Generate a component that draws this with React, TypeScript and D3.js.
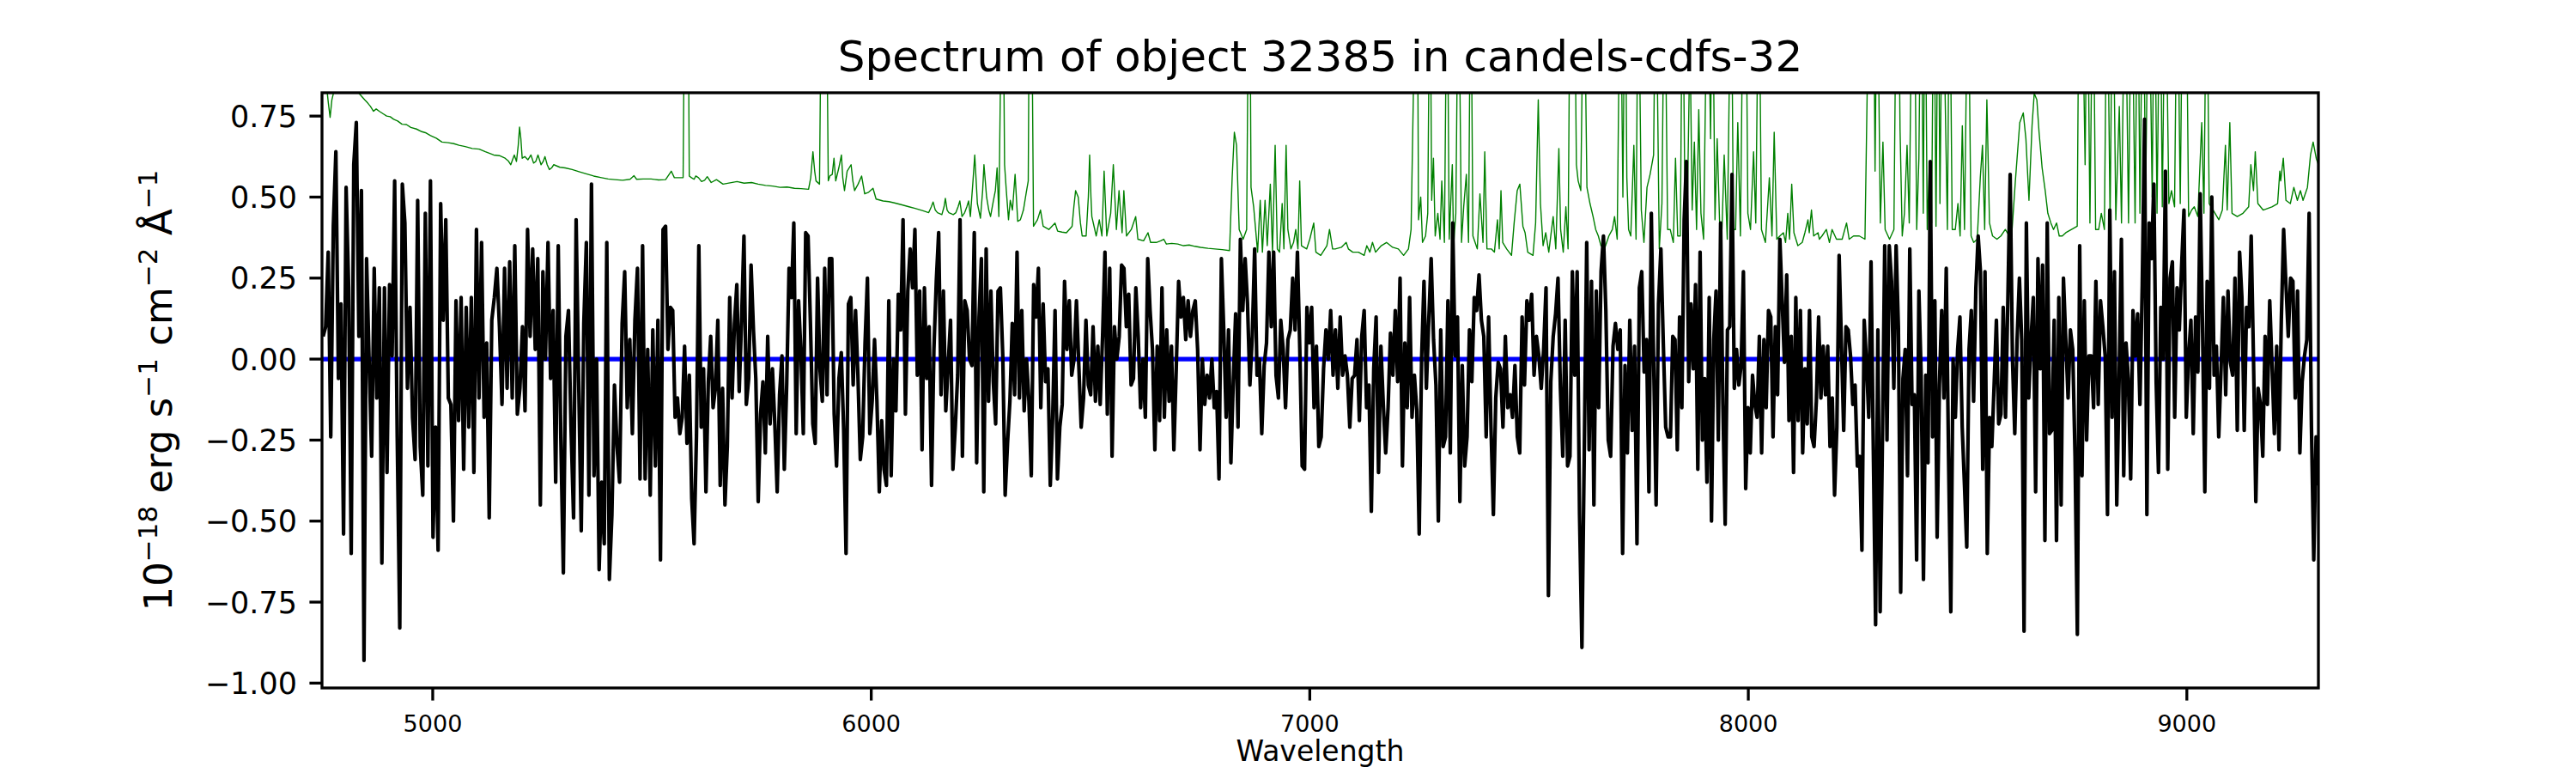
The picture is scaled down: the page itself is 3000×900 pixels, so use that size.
import React from "react";
import * as d3 from "d3";

const TITLE = "Spectrum of object 32385 in candels-cdfs-32";
const X_LABEL = "Wavelength";
const X_TICKS = [5000, 6000, 7000, 8000, 9000];
const Y_TICKS = [0.75, 0.5, 0.25, 0, -0.25, -0.5, -0.75, -1.0];
const X_DOMAIN: [number, number] = [4747.5, 9300];
const Y_DOMAIN: [number, number] = [-1.015, 0.822];

// wavelength edges of the six traced stretches of the observed spectrum
const SEGMENT_EDGES = [4750, 5531, 6294.5, 7058.5, 7822.5, 8586.5, 9300];

const FLUX_SEG1 = [0.07,0.10,0.33,-0.24,0.41,0.64,-0.06,0.17,-0.54,0.53,0.22,-0.60,0.60,0.73,0.07,0.52,-0.93,0.31,0.00,-0.30,0.28,-0.12,0.22,-0.63,0.22,-0.35,0.23,0.01,0.55,-0.24,-0.83,0.54,0.42,-0.09,0.16,-0.18,-0.31,0.49,-0.27,-0.42,0.45,-0.33,0.55,-0.55,-0.21,-0.59,0.48,0.12,0.43,-0.12,-0.14,-0.50,0.18,-0.19,0.19,-0.34,0.16,-0.21,0.19,-0.35,0.40,-0.12,0.36,-0.18,0.05,-0.49,0.12,0.19,0.28,0.10,-0.14,0.28,-0.09,0.30,-0.12,0.35,-0.17,-0.09,0.10,-0.16,0.40,0.07,0.34,0.03,0.31,-0.45,0.27,0.00,0.36,-0.06,0.15,-0.38,0.35,-0.24,-0.66,0.07,0.15,-0.21,-0.49,0.43,-0.07,-0.53,0.11,0.36,-0.42,0.54,-0.36,0.00,-0.65,-0.38,-0.57,0.36,-0.68,-0.48,-0.08,-0.27,-0.38,0.11,0.27,-0.15,0.06,-0.23,0.12,0.28,-0.37,0.35,-0.37,0.03,-0.42,0.09,-0.33,0.12,-0.62,0.40];

const FLUX_SEG2 = [0.41,0.03,0.16,0.15,-0.18,-0.12,-0.23,-0.18,0.04,-0.26,-0.05,-0.43,-0.57,-0.24,0.35,-0.21,-0.03,-0.41,-0.07,0.07,-0.15,-0.09,0.12,-0.39,-0.09,-0.45,-0.27,0.19,-0.12,0.11,0.23,-0.10,0.12,0.38,-0.14,-0.06,0.29,0.09,-0.06,-0.44,-0.17,-0.07,-0.29,0.07,-0.20,-0.03,-0.20,-0.41,-0.11,0.01,-0.34,-0.08,0.28,0.19,0.42,-0.23,0.18,0.02,-0.23,0.39,0.38,0.11,-0.20,-0.26,0.25,-0.03,-0.13,0.28,-0.11,0.31,0.31,-0.17,-0.33,-0.06,0.02,-0.22,-0.60,0.17,0.19,-0.08,0.15,-0.05,-0.31,-0.24,0.05,0.25,-0.23,-0.13,0.06,-0.13,-0.41,-0.19,-0.34,-0.39,0.18,-0.36,0.00,-0.16,0.20,0.09,0.43,-0.17,0.21,0.34,0.22,0.40,-0.05,0.21,-0.28,0.22,-0.06,0.10,-0.39,0.03,0.24,0.39,-0.11,0.21,-0.16,-0.02,0.12,-0.34,-0.21,-0.05,0.43,-0.30,0.18,0.15,0.00,-0.02,0.39,-0.32,0.13,0.31,-0.41,0.34,-0.13,0.21,-0.07,-0.20,0.21];

const FLUX_SEG3 = [0.22,0.01,-0.42,-0.26,-0.13,0.11,-0.11,0.33,-0.12,0.15,-0.16,0.00,-0.13,-0.36,0.23,0.13,0.28,-0.15,0.17,-0.07,-0.03,-0.39,-0.18,0.15,-0.37,-0.21,-0.14,0.24,0.03,0.18,-0.05,0.00,0.18,-0.02,-0.21,-0.12,0.12,-0.08,-0.11,0.10,-0.13,0.04,-0.14,0.07,0.33,-0.17,0.28,-0.30,0.10,0.00,0.07,0.29,0.28,0.10,0.20,-0.08,-0.06,0.22,0.07,-0.15,0.00,-0.18,0.31,0.15,0.03,-0.28,0.04,-0.19,0.22,-0.18,0.09,-0.13,0.04,-0.28,-0.03,0.24,0.13,0.19,0.06,0.18,0.07,0.15,0.18,0.03,-0.28,0.00,-0.14,-0.05,-0.12,0.00,-0.15,-0.10,-0.37,0.31,0.09,-0.18,0.09,-0.32,-0.07,0.14,-0.21,0.37,0.15,0.31,0.17,-0.08,0.07,0.34,-0.05,0.00,-0.23,-0.02,0.05,0.33,0.10,0.33,-0.05,-0.12,0.12,0.03,-0.15,0.06,0.09,0.25,0.09,0.33,0.03,-0.33,-0.34,0.16,0.05,0.16,-0.15,0.04,-0.27,-0.24,-0.03,0.09,0.00,0.15,-0.05];

const FLUX_SEG4 = [0.09,-0.09,0.13,-0.05,0.01,-0.05,-0.21,-0.06,-0.05,0.06,-0.19,0.07,0.15,-0.15,-0.08,-0.47,-0.03,0.13,-0.35,0.04,-0.14,-0.29,-0.15,0.08,-0.05,0.15,-0.07,0.25,-0.33,0.05,-0.15,0.19,-0.18,-0.05,-0.16,-0.54,0.00,0.24,-0.09,0.12,0.31,0.06,-0.08,-0.50,0.09,-0.27,-0.24,0.18,-0.29,0.42,0.01,0.13,-0.44,-0.02,-0.33,-0.24,0.09,-0.07,0.19,0.15,0.26,0.12,0.07,-0.24,0.13,-0.21,-0.48,-0.12,-0.01,-0.03,-0.21,0.07,-0.15,-0.11,-0.18,-0.02,-0.24,-0.29,0.13,-0.08,0.18,0.12,0.20,-0.05,0.07,0.01,-0.09,0.03,0.22,-0.73,-0.07,0.07,0.14,0.25,-0.09,-0.30,0.12,-0.33,-0.30,0.27,-0.05,0.27,-0.48,-0.89,-0.27,0.36,-0.28,0.24,-0.45,0.21,-0.15,0.27,0.38,0.15,-0.25,-0.30,0.04,0.11,0.03,0.09,-0.60,-0.02,-0.29,0.12,-0.22,0.04,-0.57,0.22,0.27,-0.04,0.06,-0.41,0.45,-0.02,-0.45,0.17,0.34,0.05,-0.21,-0.24];

const FLUX_SEG5 = [-0.24,0.07,0.06,-0.28,0.13,-0.15,0.43,0.61,-0.07,0.17,-0.03,0.23,-0.34,0.33,-0.25,-0.06,-0.38,0.19,-0.50,0.06,0.21,-0.25,0.42,-0.14,-0.51,0.09,0.10,0.57,-0.09,0.03,-0.08,-0.02,0.27,-0.40,-0.15,-0.29,-0.05,-0.14,-0.18,0.07,-0.29,0.06,-0.15,0.15,0.13,-0.24,0.10,-0.11,0.37,0.18,-0.01,0.26,-0.19,0.07,-0.35,0.19,-0.19,0.15,-0.29,-0.03,-0.20,0.15,-0.24,-0.27,-0.13,0.13,-0.12,0.04,-0.11,0.04,-0.27,-0.12,-0.42,-0.21,0.32,0.05,-0.22,0.10,0.09,0.01,-0.14,-0.08,-0.33,-0.30,-0.59,0.12,-0.01,-0.18,0.30,-0.28,-0.82,0.09,-0.78,-0.25,0.35,-0.25,0.35,0.24,-0.09,0.35,0.10,-0.72,-0.06,0.03,-0.36,0.34,-0.14,-0.11,-0.62,0.21,-0.05,-0.68,-0.05,-0.32,0.61,-0.24,0.18,-0.55,-0.08,0.15,-0.12,0.28,-0.30,-0.78,0.00,-0.18,0.03,0.13,-0.21,-0.39,-0.58,0.03,0.15,-0.13,0.22,0.38,0.27,-0.34,0.27,-0.60,-0.18,-0.27,-0.08,0.12,-0.20,-0.17,0.16];

const FLUX_SEG6 = [-0.18,0.18,0.57,0.00,-0.23,0.06,0.25,0.06,-0.84,0.42,-0.12,0.06,0.19,-0.41,0.31,-0.03,0.29,-0.56,0.42,-0.23,-0.22,0.12,-0.56,0.19,-0.45,0.25,0.06,-0.12,0.09,0.03,-0.30,-0.85,0.35,-0.36,0.18,-0.25,0.01,0.01,-0.15,0.24,-0.14,0.18,0.10,0.01,-0.48,0.46,-0.18,0.27,-0.45,-0.07,0.37,-0.36,0.05,-0.06,-0.37,0.15,0.01,0.14,-0.14,0.23,0.74,-0.48,0.42,0.31,0.54,-0.07,-0.35,0.16,0.00,0.58,-0.34,0.25,0.30,-0.18,0.22,0.09,0.29,0.46,-0.18,0.01,0.12,-0.23,0.13,-0.04,0.51,0.10,-0.41,0.24,-0.09,0.50,-0.05,0.04,-0.24,-0.03,0.19,-0.11,0.21,-0.01,-0.05,0.25,-0.22,0.33,0.19,-0.22,0.16,0.10,0.38,0.00,-0.44,-0.09,-0.14,-0.30,0.07,-0.14,0.18,-0.02,-0.23,0.04,-0.28,0.12,0.40,0.23,0.07,0.25,0.24,-0.12,0.21,-0.29,-0.07,0.01,0.06,0.45,-0.21,-0.62,-0.24,-0.39];

const FLUX_SEGMENTS = [FLUX_SEG1, FLUX_SEG2, FLUX_SEG3, FLUX_SEG4, FLUX_SEG5, FLUX_SEG6];

// noise / error spectrum: [wavelength, value]
const NOISE: [number, number][] = [
  [4748,0.95],[4755,0.88],[4762,0.79],[4766,0.746],[4770,0.80],[4777,0.84],[4787,0.835],[4800,0.84],[4813,0.83],[4822,0.835],[4832,0.82],[4845,0.80],[4852,0.79],[4858,0.78],[4865,0.765],[4871,0.772],[4878,0.765],[4887,0.757],[4895,0.75],[4903,0.748],[4911,0.74],[4920,0.735],[4930,0.725],[4940,0.724],[4950,0.715],[4963,0.71],[4975,0.702],[4985,0.698],[4995,0.69],[5008,0.682],[5021,0.67],[5035,0.668],[5048,0.665],[5060,0.66],[5074,0.656],[5090,0.65],[5106,0.648],[5120,0.64],[5139,0.63],[5152,0.628],[5165,0.62],[5172,0.612],[5178,0.60],[5182,0.615],[5186,0.63],[5191,0.61],[5195,0.66],[5198,0.716],[5201,0.68],[5204,0.62],[5210,0.625],[5217,0.615],[5224,0.63],[5230,0.605],[5235,0.61],[5240,0.63],[5247,0.60],[5252,0.61],[5256,0.625],[5261,0.60],[5266,0.585],[5271,0.59],[5276,0.60],[5290,0.592],[5302,0.59],[5318,0.585],[5335,0.578],[5350,0.572],[5367,0.565],[5385,0.56],[5400,0.556],[5415,0.554],[5433,0.552],[5450,0.555],[5459,0.566],[5465,0.555],[5480,0.556],[5498,0.556],[5515,0.553],[5531,0.554],
  [5544,0.58],[5551,0.56],[5564,0.56],[5571,0.56],[5575,1.3],[5582,1.3],[5585,0.565],[5590,0.56],[5596,0.555],[5600,0.565],[5606,0.56],[5613,0.548],[5620,0.552],[5626,0.563],[5635,0.545],[5647,0.554],[5662,0.54],[5678,0.544],[5694,0.548],[5710,0.543],[5727,0.545],[5742,0.54],[5759,0.536],[5775,0.534],[5792,0.53],[5808,0.531],[5825,0.527],[5840,0.526],[5857,0.524],[5862,0.56],[5867,0.64],[5871,0.58],[5874,0.55],[5882,0.54],[5887,1.3],[5897,1.3],[5902,0.55],[5906,0.566],[5911,0.57],[5915,0.62],[5919,0.55],[5926,0.59],[5932,0.63],[5935,0.56],[5939,0.52],[5945,0.58],[5954,0.60],[5958,0.55],[5962,0.52],[5970,0.54],[5978,0.565],[5985,0.51],[5994,0.515],[6004,0.527],[6011,0.494],[6027,0.488],[6040,0.486],[6053,0.482],[6070,0.476],[6086,0.47],[6100,0.465],[6118,0.458],[6131,0.452],[6137,0.47],[6141,0.485],[6146,0.46],[6151,0.452],[6161,0.446],[6166,0.47],[6169,0.496],[6173,0.46],[6177,0.452],[6187,0.446],[6193,0.452],[6198,0.47],[6202,0.488],[6207,0.44],[6213,0.452],[6218,0.47],[6222,0.488],[6226,0.44],[6232,0.55],[6236,0.63],[6240,0.53],[6242,0.48],[6249,0.435],[6254,0.52],[6257,0.60],[6260,0.55],[6263,0.50],[6268,0.46],[6272,0.44],[6278,0.485],[6283,0.52],[6287,0.59],[6291,0.44],[6295,0.9],
  [6300,1.3],[6304,0.6],[6308,0.52],[6313,0.43],[6317,0.49],[6322,0.46],[6328,0.57],[6334,0.425],[6340,0.43],[6347,0.46],[6353,0.51],[6358,0.55],[6361,1.3],[6365,1.3],[6370,0.41],[6379,0.43],[6386,0.46],[6392,0.41],[6405,0.40],[6412,0.41],[6419,0.42],[6425,0.395],[6435,0.392],[6445,0.39],[6458,0.41],[6462,0.47],[6466,0.52],[6472,0.50],[6477,0.42],[6481,0.38],[6490,0.38],[6495,0.50],[6498,0.63],[6501,0.50],[6503,0.44],[6513,0.38],[6520,0.43],[6526,0.38],[6531,0.58],[6537,0.38],[6546,0.45],[6552,0.60],[6559,0.40],[6565,0.52],[6572,0.39],[6576,0.52],[6582,0.38],[6593,0.40],[6603,0.44],[6608,0.37],[6621,0.365],[6631,0.39],[6637,0.36],[6650,0.36],[6660,0.365],[6667,0.37],[6673,0.355],[6685,0.357],[6699,0.355],[6712,0.35],[6725,0.352],[6738,0.348],[6751,0.345],[6768,0.342],[6784,0.34],[6800,0.338],[6817,0.335],[6823,0.56],[6828,0.70],[6833,0.66],[6839,0.40],[6848,0.37],[6856,0.40],[6861,1.3],[6863,1.3],[6866,0.53],[6872,0.47],[6881,0.33],[6887,0.49],[6892,0.33],[6898,0.49],[6903,0.35],[6910,0.54],[6915,0.33],[6921,0.66],[6926,0.34],[6931,0.33],[6937,0.48],[6941,0.34],[6946,0.66],[6950,0.40],[6957,0.34],[6963,0.36],[6968,0.40],[6973,0.34],[6977,0.55],[6981,0.35],[6993,0.34],[7000,0.37],[7009,0.42],[7014,0.33],[7025,0.32],[7039,0.35],[7045,0.40],[7052,0.34],
  [7058,0.34],[7072,0.345],[7083,0.36],[7088,0.34],[7098,0.33],[7111,0.33],[7124,0.32],[7130,0.35],[7137,0.33],[7143,0.36],[7150,0.33],[7163,0.35],[7175,0.36],[7189,0.345],[7202,0.34],[7214,0.32],[7225,0.34],[7231,0.40],[7236,0.8],[7240,1.3],[7245,1.3],[7248,0.43],[7253,0.50],[7257,0.36],[7264,0.38],[7269,0.45],[7274,1.3],[7278,0.49],[7282,0.62],[7286,0.38],[7292,0.45],[7297,0.37],[7301,0.55],[7307,0.36],[7313,1.3],[7318,0.37],[7325,0.60],[7328,0.35],[7333,0.45],[7339,1.3],[7346,0.36],[7351,0.47],[7357,0.57],[7362,0.36],[7367,1.3],[7372,0.38],[7382,0.34],[7388,0.51],[7395,0.36],[7399,0.64],[7404,0.34],[7414,0.34],[7421,0.33],[7428,0.43],[7432,0.34],[7436,0.52],[7440,0.36],[7449,0.34],[7460,0.32],[7466,0.42],[7473,0.52],[7479,0.54],[7486,0.41],[7491,0.39],[7497,0.33],[7509,0.32],[7515,0.42],[7521,0.80],[7526,0.48],[7532,0.35],[7538,0.39],[7545,0.33],[7555,0.44],[7561,0.34],[7568,0.65],[7572,0.40],[7578,0.33],[7584,0.47],[7589,0.34],[7594,1.3],[7603,1.3],[7608,0.6],[7612,0.55],[7618,0.52],[7625,1.3],[7632,0.53],[7639,0.48],[7646,0.44],[7652,0.40],[7658,0.38],[7664,0.35],[7672,0.34],[7682,0.38],[7690,0.40],[7695,0.44],[7701,0.37],[7708,1.3],[7714,0.50],[7719,1.3],[7723,0.56],[7727,0.40],[7732,0.38],[7739,0.66],[7744,0.37],[7749,1.3],[7756,0.46],[7762,0.36],[7769,0.53],[7776,0.57],[7784,0.63],[7789,1.3],[7797,0.34],[7803,0.48],[7809,1.3],[7816,0.40],
  [7822,0.40],[7829,0.36],[7834,0.62],[7839,0.38],[7845,0.38],[7850,1.3],[7855,0.55],[7860,0.38],[7867,1.0],[7872,0.46],[7877,0.67],[7882,0.40],[7887,0.77],[7892,0.45],[7898,0.37],[7907,1.3],[7914,0.68],[7918,1.3],[7924,0.43],[7929,0.68],[7935,0.40],[7940,0.40],[7945,0.63],[7952,0.37],[7961,1.3],[7966,0.40],[7971,0.40],[7976,0.73],[7982,0.38],[7989,1.3],[7994,1.3],[7999,0.45],[8005,0.40],[8012,0.64],[8017,0.42],[8024,1.3],[8030,0.40],[8039,0.36],[8048,0.56],[8054,0.38],[8059,0.70],[8065,0.37],[8072,0.38],[8080,0.39],[8085,0.36],[8090,0.45],[8094,0.37],[8099,0.54],[8104,0.39],[8113,0.35],[8123,0.36],[8129,0.39],[8136,0.43],[8139,0.39],[8144,0.46],[8149,0.38],[8159,0.39],[8162,0.37],[8168,0.38],[8178,0.40],[8185,0.36],[8191,0.40],[8201,0.37],[8214,0.37],[8224,0.42],[8230,0.37],[8240,0.38],[8253,0.38],[8266,0.37],[8273,1.0],[8278,1.3],[8285,1.3],[8289,0.58],[8294,1.3],[8301,0.42],[8307,0.67],[8312,0.40],[8322,0.37],[8332,0.40],[8338,1.3],[8342,1.3],[8346,0.71],[8351,0.38],[8356,0.45],[8362,0.66],[8367,0.42],[8374,1.3],[8378,1.3],[8384,0.40],[8389,0.62],[8394,1.3],[8399,0.45],[8403,1.3],[8408,0.40],[8413,0.60],[8418,0.42],[8423,1.3],[8428,0.41],[8433,1.3],[8437,0.48],[8443,1.3],[8449,0.80],[8454,0.40],[8459,1.3],[8465,0.40],[8472,0.40],[8478,0.48],[8483,0.38],[8488,0.72],[8493,0.40],[8501,1.3],[8508,0.38],[8514,0.36],[8522,0.37],[8529,0.56],[8534,0.66],[8539,0.40],[8544,0.80],[8550,0.42],[8557,0.38],[8567,0.37],[8576,0.38],
  [8586,0.40],[8600,0.37],[8609,0.55],[8619,0.73],[8627,0.76],[8633,0.68],[8640,0.49],[8647,0.72],[8652,0.82],[8658,0.80],[8663,0.70],[8670,0.59],[8677,0.52],[8683,0.45],[8690,0.42],[8696,0.40],[8703,0.42],[8709,0.38],[8716,0.38],[8724,0.39],[8737,0.40],[8750,0.41],[8753,1.0],[8760,1.3],[8768,0.60],[8773,1.3],[8779,0.42],[8786,1.3],[8792,0.40],[8799,0.40],[8805,0.45],[8812,0.40],[8818,1.3],[8825,0.42],[8831,1.3],[8838,0.43],[8846,0.78],[8851,0.42],[8859,1.3],[8867,0.42],[8874,1.3],[8882,0.42],[8888,1.3],[8893,0.45],[8900,1.3],[8906,0.50],[8913,1.3],[8921,0.50],[8926,1.3],[8932,0.45],[8939,1.3],[8944,0.47],[8951,1.3],[8959,0.48],[8965,0.52],[8972,0.47],[8978,1.3],[8985,0.48],[8991,1.3],[8998,1.3],[9004,0.44],[9011,0.46],[9017,0.47],[9025,0.44],[9034,0.73],[9039,0.45],[9045,1.3],[9051,0.48],[9060,0.46],[9073,0.43],[9081,0.46],[9088,0.66],[9092,0.46],[9098,0.73],[9103,0.45],[9115,0.44],[9128,0.45],[9141,0.47],[9146,0.60],[9152,0.52],[9156,0.64],[9162,0.48],[9174,0.46],[9194,0.47],[9207,0.48],[9212,0.58],[9214,0.55],[9220,0.62],[9226,0.49],[9236,0.48],[9244,0.53],[9252,0.49],[9259,0.52],[9265,0.49],[9275,0.53],[9282,0.63],[9288,0.67],[9295,0.62],[9300,0.60]
];

// fitted model (flat at zero)
const MODEL: [number, number][] = [[4747.5, 0], [9300, 0]];

const W = 3000;
const H = 900;
const AX = { left: 375, right: 2700, top: 108, bottom: 801 };
const FONT = "DejaVu Sans, sans-serif";

function fmtY(v: number) {
  const s = Math.abs(v).toFixed(2);
  return v < 0 ? "\u2212" + s : s;
}

export default function App() {
  const x = d3.scaleLinear().domain(X_DOMAIN).range([AX.left, AX.right]);
  const y = d3.scaleLinear().domain(Y_DOMAIN).range([AX.bottom, AX.top]);

  const flux: [number, number][] = [];
  FLUX_SEGMENTS.forEach((seg, k) => {
    const a = SEGMENT_EDGES[k];
    const b = SEGMENT_EDGES[k + 1];
    const last = k === FLUX_SEGMENTS.length - 1;
    const n = last ? seg.length - 1 : seg.length;
    seg.forEach((v, i) => flux.push([a + ((b - a) * i) / n, v]));
  });

  const line = d3
    .line<[number, number]>()
    .x((d) => x(d[0]))
    .y((d) => y(d[1]));

  const tick = 14.6;
  const spine = 3.3;
  const yMid = (AX.top + AX.bottom) / 2;

  return (
    <svg
      width={W}
      height={H}
      viewBox={`0 0 ${W} ${H}`}
      style={{ position: "absolute", left: 0, top: 0, background: "#fff" }}
      fontFamily={FONT}
    >
      <rect x={0} y={0} width={W} height={H} fill="#fff" />
      <defs>
        <clipPath id="axclip">
          <rect x={AX.left} y={AX.top} width={AX.right - AX.left} height={AX.bottom - AX.top} />
        </clipPath>
      </defs>
      <g clipPath="url(#axclip)">
        <path d={line(NOISE) || ""} fill="none" stroke="green" strokeWidth={1.4} strokeLinejoin="round" />
        <path d={line(MODEL) || ""} fill="none" stroke="blue" strokeWidth={5.2} />
        <path d={line(flux) || ""} fill="none" stroke="#000" strokeWidth={4.2} strokeLinejoin="round" />
      </g>
      <rect
        x={AX.left}
        y={AX.top}
        width={AX.right - AX.left}
        height={AX.bottom - AX.top}
        fill="none"
        stroke="#000"
        strokeWidth={spine}
      />
      {X_TICKS.map((t) => (
        <g key={"x" + t}>
          <line x1={x(t)} x2={x(t)} y1={AX.bottom} y2={AX.bottom + tick} stroke="#000" strokeWidth={spine} />
          <text x={x(t)} y={852} fontSize={27} textAnchor="middle" fill="#000">
            {t}
          </text>
        </g>
      ))}
      {Y_TICKS.map((t) => (
        <g key={"y" + t}>
          <line x1={AX.left - tick} x2={AX.left} y1={y(t)} y2={y(t)} stroke="#000" strokeWidth={spine} />
          <text x={346} y={y(t)} dy="0.36em" fontSize={35} textAnchor="end" fill="#000">
            {fmtY(t)}
          </text>
        </g>
      ))}
      <text x={(AX.left + AX.right) / 2} y={83} fontSize={50} textAnchor="middle" fill="#000">
        {TITLE}
      </text>
      <text x={(AX.left + AX.right) / 2} y={886} fontSize={33} textAnchor="middle" fill="#000">
        {X_LABEL}
      </text>
      <text transform={`translate(200,${yMid}) rotate(-90)`} fontSize={45} textAnchor="middle" fill="#000">
        <tspan>10</tspan>
        <tspan fontSize={31} dy={-17}>{"\u221218"}</tspan>
        <tspan dy={17}>{" erg s"}</tspan>
        <tspan fontSize={31} dy={-17}>{"\u22121"}</tspan>
        <tspan dy={17}>{" cm"}</tspan>
        <tspan fontSize={31} dy={-17}>{"\u22122"}</tspan>
        <tspan dy={17}>{" \u00C5"}</tspan>
        <tspan fontSize={31} dy={-17}>{"\u22121"}</tspan>
      </text>
    </svg>
  );
}
